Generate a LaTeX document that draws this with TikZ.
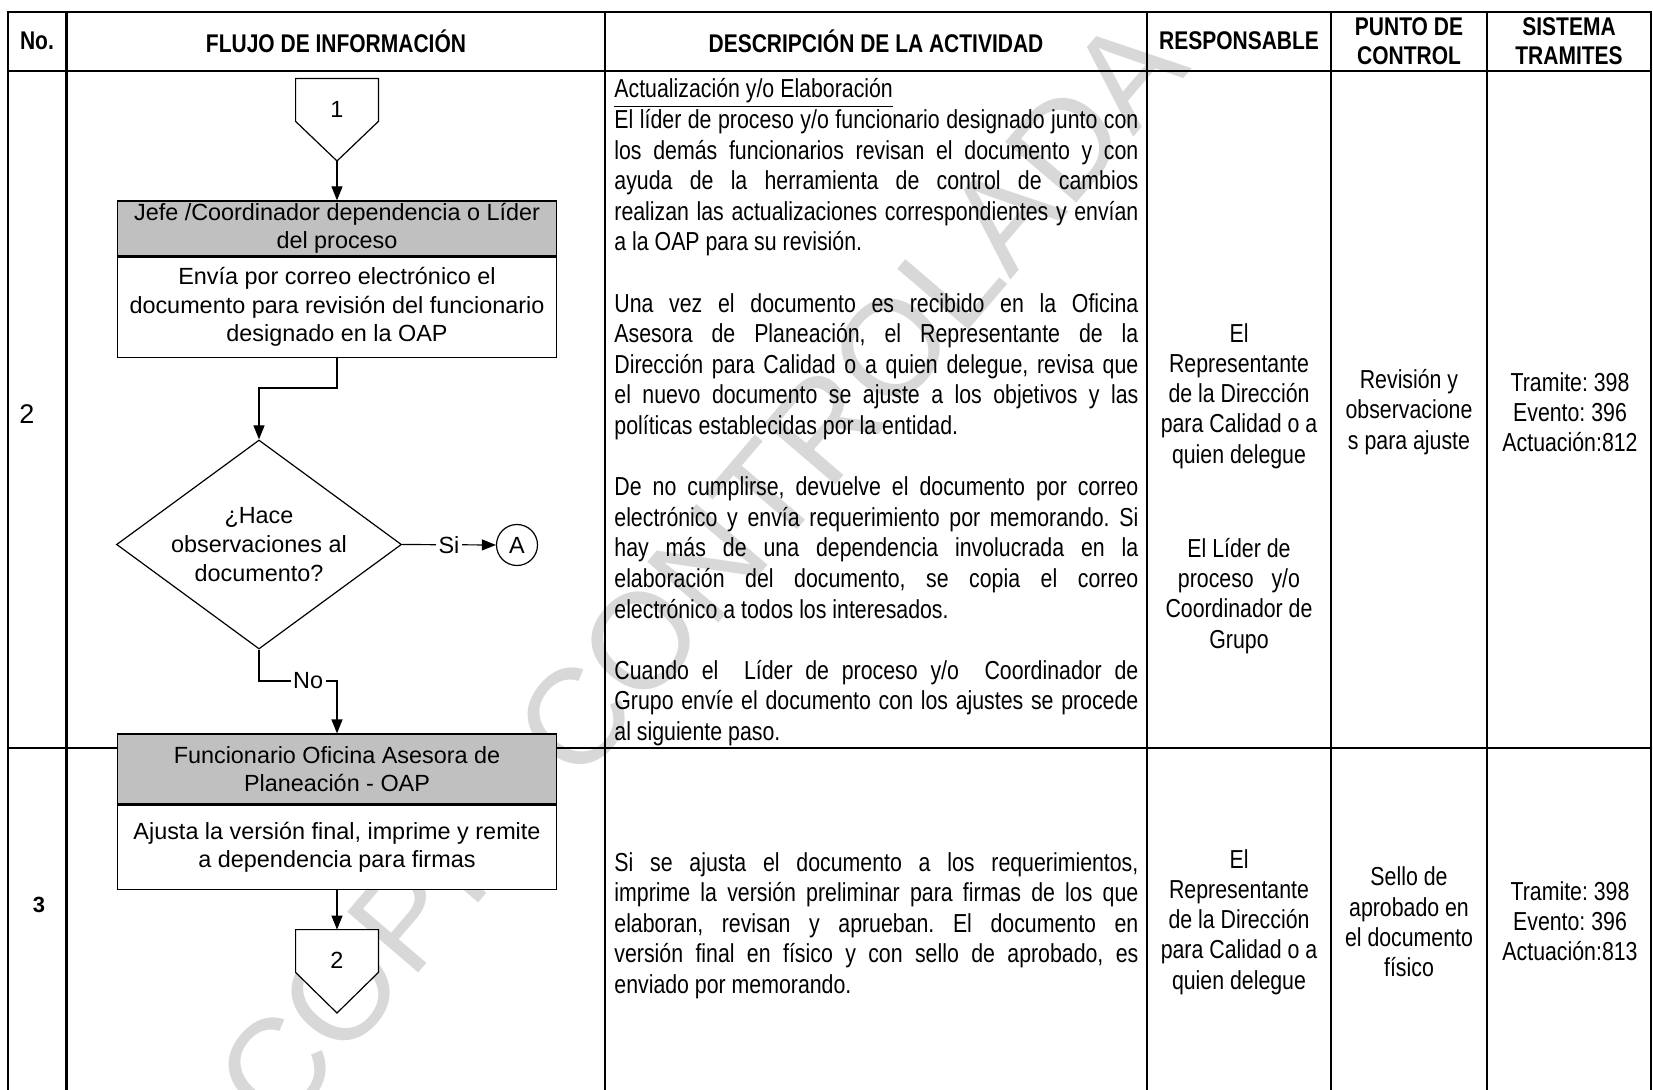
\documentclass[tikz,border=0pt]{standalone}
\usepackage{fontspec}
\setmainfont{Liberation Sans}
\newfontfamily\narrowfont{Liberation Sans}[FakeStretch=0.82]
\usetikzlibrary{arrows.meta,shapes.geometric}
\definecolor{hdrgray}{RGB}{192,192,192}
\definecolor{wmgray}{RGB}{216,216,216}
\frenchspacing
\begin{document}
\begin{tikzpicture}[x=0.5pt,y=-0.5pt,line join=miter,
  tbl/.style={line width=1.4pt},
  flow/.style={line width=0.6pt},
  arr/.style={flow,-{Triangle[length=7pt,width=5.5pt]}},
  hdr/.style={font=\narrowfont\bfseries\fontsize{12.8}{14.3}\selectfont, align=center, inner sep=0pt},
  desc/.style={font=\narrowfont\fontsize{13}{15.3}\selectfont, text width=262pt, align=justify, inner sep=0pt},
  cell/.style={font=\narrowfont\fontsize{13}{15.1}\selectfont, align=center, inner sep=0pt},
  ftxt/.style={font=\fontsize{11.7}{14.3}\selectfont, align=center},
  hbox/.style={ftxt, draw, line width=0.6pt, fill=hdrgray, minimum width=219.5pt, inner sep=0pt},
  bbox/.style={ftxt, draw, line width=0.6pt, fill=white, minimum width=219.5pt, inner sep=0pt},
  lbl/.style={font=\fontsize{11.7}{14.3}\selectfont, fill=white, inner sep=1.2pt},
  conn/.style={minimum width=41pt, minimum height=21pt, inner sep=0pt},
]
\useasboundingbox (0,0) rectangle (1653,1090);

% watermark
\node[text=wmgray, font=\fontsize{68}{68}\selectfont, rotate=49.5, inner sep=0pt] (wm) at (700,572) {COPIA CONTROLADA};

% table
\draw[tbl] (8,1096) -- (8,12) -- (1651,12) -- (1651,1096);
\draw[tbl] (8,71) -- (1651,71);
\draw[tbl] (8,748) -- (1651,748);
\foreach \cx in {66.5,605,1147,1331,1487} \draw[tbl] (\cx,12) -- (\cx,1096);

% header
\node[hdr] (hNo) at (37,41) {No.};
\node[hdr] (hFlujo) at (336,41) {FLUJO DE INFORMACIÓN};
\node[hdr] (hDesc) at (876,41) {DESCRIPCIÓN DE LA ACTIVIDAD};
\node[hdr] (hResp) at (1239,41) {RESPONSABLE};
\node[hdr] (hPunto) at (1409,41) {PUNTO DE\\CONTROL};
\node[hdr] (hSis) at (1569,41) {SISTEMA\\TRAMITES};

% row numbers
\node[font=\fontsize{13.5}{14}\selectfont, inner sep=0pt] (n2) at (27,414) {2};
\node[font=\bfseries\fontsize{11}{12}\selectfont, inner sep=0pt] (n3) at (39,905) {3};

% description row 2
\node[desc, anchor=base west] (d2) at (614,98) {\tolerance=10000 \hyphenpenalty=10000
\underline{Actualización y/o Elaboración}\par
El líder de proceso y/o funcionario designado junto con\linebreak
los demás funcionarios revisan el documento y con\linebreak
ayuda de la herramienta de control de cambios\linebreak
realizan las actualizaciones correspondientes y envían\linebreak
a la OAP para su revisión.\par
\null\par
Una vez el documento es recibido en la Oficina\linebreak
Asesora de Planeación, el Representante de la\linebreak
Dirección para Calidad o a quien delegue, revisa que\linebreak
el nuevo documento se ajuste a los objetivos y las\linebreak
políticas establecidas por la entidad.\par
\null\par
De no cumplirse, devuelve el documento por correo\linebreak
electrónico y envía requerimiento por memorando. Si\linebreak
hay más de una dependencia involucrada en la\linebreak
elaboración del documento, se copia el correo\linebreak
electrónico a todos los interesados.\par
\null\par
Cuando el\ \ Líder de proceso y/o\ \ Coordinador de\linebreak
Grupo envíe el documento con los ajustes se procede\linebreak
al siguiente paso.\par};

% description row 3
\node[desc, anchor=base west] (d3) at (614,871) {\tolerance=10000 \hyphenpenalty=10000
Si se ajusta el documento a los requerimientos,\linebreak
imprime la versión preliminar para firmas de los que\linebreak
elaboran, revisan y aprueban. El documento en\linebreak
versión final en físico y con sello de aprobado, es\linebreak
enviado por memorando.\par};

% right columns row 2
\node[cell] (r2a) at (1239,396) {El\\Representante\\de la Dirección\\para Calidad o a\\quien delegue};
\node[cell] (r2b) at (1239,596) {El Líder de\\proceso\ \ \ y/o\\Coordinador de\\Grupo};
\node[cell] (p2) at (1409,412) {Revisión y\\observacione\\s para ajuste};
\node[cell] (s2) at (1570,412) {Tramite: 398\\Evento: 396\\Actuación:812};
% right columns row 3
\node[cell] (r3) at (1239,922) {El\\Representante\\de la Dirección\\para Calidad o a\\quien delegue};
\node[cell] (p3) at (1409,922) {Sello de\\aprobado en\\el documento\\físico};
\node[cell] (s3) at (1570,921) {Tramite: 398\\Evento: 396\\Actuación:813};

% flowchart
\node[conn] (c1) at (337,100) {};
\coordinate (c1tip) at (337,161);
\draw[flow, fill=white] (c1.north west) -- (c1.north east) -- (c1.south east) -- (c1tip) -- (c1.south west) -- cycle;
\node[ftxt, inner sep=0pt] (c1t) at (337,109) {1};

\node[hbox, minimum height=27.5pt] (b1h) at (337,228.5) {Jefe /Coordinador dependencia o Líder\\del proceso};
\node[bbox, minimum height=50pt, anchor=north] (b1b) at (b1h.south) {Envía por correo electrónico el\\documento para revisión del funcionario\\designado en la OAP};

\node[diamond, draw, flow, fill=white, ftxt, minimum width=142.5pt, minimum height=104.5pt, aspect=1.4, inner sep=0pt] (dia) at (259,544.5) {¿Hace\\observaciones al\\documento?};
\node[circle, draw, flow, ftxt, minimum size=20.5pt, inner sep=0pt] (cA) at (517,545) {A};

\node[hbox, minimum height=35pt] (b2h) at (337,769) {Funcionario Oficina Asesora de\\Planeación - OAP};
\node[bbox, minimum height=42pt, anchor=north] (b2b) at (b2h.south) {Ajusta la versión final, imprime y remite\\a dependencia para firmas};

\node[conn] (c2) at (337,951) {};
\coordinate (c2tip) at (337,1013);
\draw[flow, fill=white] (c2.north west) -- (c2.north east) -- (c2.south east) -- (c2tip) -- (c2.south west) -- cycle;
\node[ftxt, inner sep=0pt] (c2t) at (337,960) {2};

\coordinate (e1) at (0,388);
\coordinate (e2) at (0,681);
\draw[arr] (c1tip) -- (b1h.north);
\draw[arr] (b1b.south) -- (b1b.south |- e1) -| (dia.north);
\draw[arr] (dia.east) -- node[lbl] (si) {Si} (cA.west);
\draw[arr] (dia.south) -- (dia.south |- e2) -- node[lbl, pos=0.63] (no) {No} (b2h.north |- e2) -- (b2h.north);
\draw[arr] (b2b.south) -- (c2.north);
\end{tikzpicture}
\end{document}
